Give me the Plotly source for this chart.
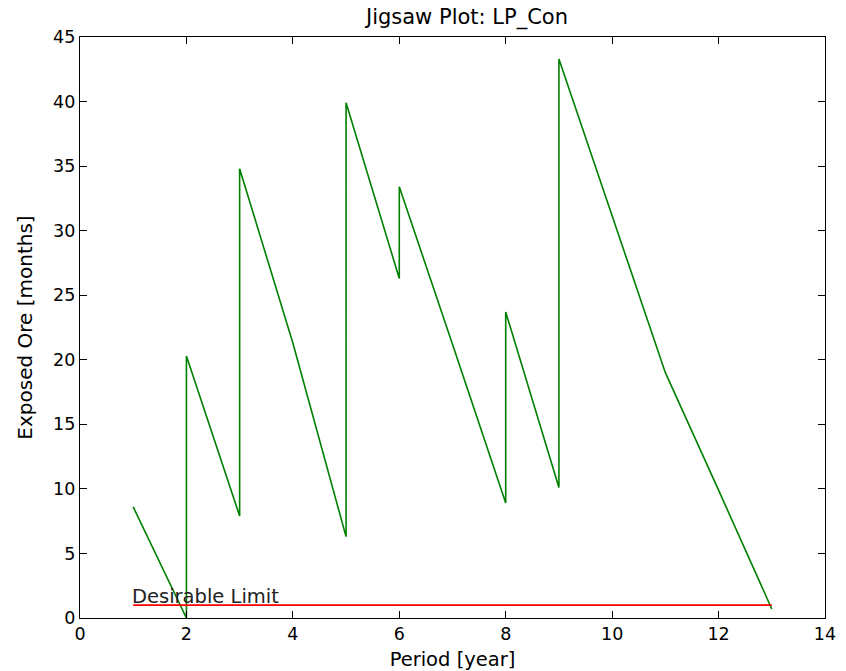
import plotly.graph_objects as go

period = [1, 2, 2, 3, 3, 4, 5, 5, 6, 6, 7, 8, 8, 9, 9, 10, 11, 12, 13]
exposed = [8.6, 0.0, 20.3, 7.9, 34.8, 21.3, 6.3, 39.9, 26.3, 33.4, 21.2, 8.9, 23.7, 10.1, 43.3, 31.2, 19.0, 9.9, 0.7]
limit_x = [1, 13]
limit_y = [1, 1]

font = "DejaVu Sans"
fig = go.Figure()
fig.add_trace(go.Scatter(x=period, y=exposed, mode="lines",
                         line=dict(color="#008000", width=1.6), showlegend=False))
fig.add_trace(go.Scatter(x=limit_x, y=limit_y, mode="lines",
                         line=dict(color="#ff0000", width=1.6), showlegend=False))
fig.add_annotation(x=limit_x[0], y=limit_y[0], text="Desirable Limit", showarrow=False,
                   xanchor="left", yanchor="bottom", xshift=-3, yshift=-5,
                   font=dict(family=font, size=19.5, color="#222222"))

axis_common = dict(showline=True, linecolor="black", linewidth=1.3, mirror="ticks",
                   ticks="inside", ticklen=7, tickcolor="black", showgrid=False,
                   zeroline=False, automargin=False,
                   tickfont=dict(family=font, size=17.5, color="black"))
fig.update_layout(
    width=846, height=671,
    margin=dict(l=80, r=21, t=37, b=53),
    plot_bgcolor="white", paper_bgcolor="white",
    title=dict(text="Jigsaw Plot: LP_Con", x=0.552, xanchor="center", y=0.975, yanchor="middle",
               font=dict(family=font, size=21, color="black")),
    xaxis=dict(range=[0, 14], dtick=2, title=dict(text="Period [year]",
               font=dict(family=font, size=19.5, color="black")), **axis_common),
    yaxis=dict(range=[0, 45], dtick=5, title=dict(text="Exposed Ore [months]",
               font=dict(family=font, size=20, color="black")), **axis_common),
)
fig.write_html("out.html")
